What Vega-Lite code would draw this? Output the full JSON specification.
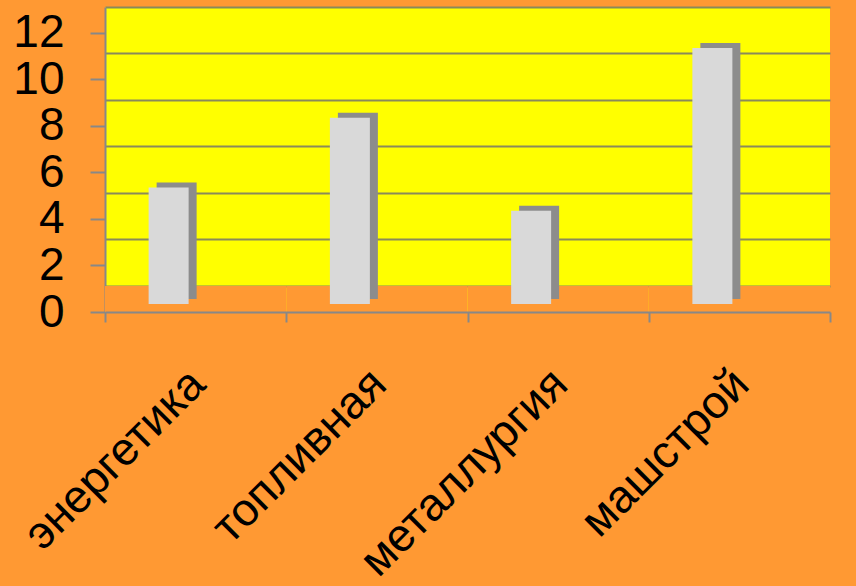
{
  "$schema": "https://vega.github.io/schema/vega-lite/v6.json",
  "autosize": {"type": "none"},
  "width": 725,
  "height": 305,
  "padding": {"left": 105, "top": 7, "right": 26, "bottom": 274},
  "background": "#FF9933",
  "view": {"fill": "#FFFF00", "stroke": null},
  "config": {"font": "Liberation Sans"},
  "data": {"values": [
    {"sector": "энергетика", "value": 5},
    {"sector": "топливная", "value": 8},
    {"sector": "металлургия", "value": 4},
    {"sector": "машстрой", "value": 11}
  ]},
  "encoding": {
    "x": {"field": "sector", "type": "nominal", "sort": null,
      "scale": {"paddingInner": 0, "paddingOuter": 0},
      "axis": {"title": null, "labelAngle": -45, "labelAlign": "right", "labelBaseline": "top", "labelFontSize": 46, "labelLimit": 400, "labelColor": "#000000", "labelPadding": 39, "labelOffset": -14, "tickBand": "extent", "tickSize": 10, "tickColor": "#888888", "domainColor": "#888888", "domainWidth": 2, "tickWidth": 2, "labelFlush": false, "labelOverlap": false}}
  },
  "layer": [
    {
      "mark": {"type": "rect", "color": "#FF9933"},
      "encoding": {
        "y": {"datum": -1.12, "type": "quantitative",
          "scale": {"domain": [-1.12, 12], "nice": false, "zero": false},
          "axis": {"orient": "right", "title": null, "values": [0, 2, 4, 6, 8, 10, 12], "labels": false, "ticks": false, "domain": false, "grid": true, "gridColor": "#8a8a5a", "gridWidth": 2}},
        "y2": {"datum": 0}
      }
    },
    {
      "encoding": {
        "y": {"field": "value", "type": "quantitative",
          "scale": {"domain": [0, 13.1], "nice": false},
          "axis": {"title": null, "values": [0, 2, 4, 6, 8, 10, 12], "grid": false, "labelFontSize": 46, "labelColor": "#000000", "labelPadding": 26, "tickSize": 15, "tickColor": "#888888", "domainColor": "#888888", "domainWidth": 2, "tickWidth": 2, "labelFlush": false, "labelOverlap": false}}
      },
      "layer": [
        {"mark": {"type": "bar", "color": "#8C8C8C", "width": 40, "xOffset": -19, "yOffset": -13}},
        {"mark": {"type": "bar", "color": "#D9D9D9", "width": 40, "xOffset": -27, "yOffset": -8}}
      ]
    }
  ],
  "resolve": {"scale": {"y": "independent"}, "axis": {"y": "independent"}}
}
